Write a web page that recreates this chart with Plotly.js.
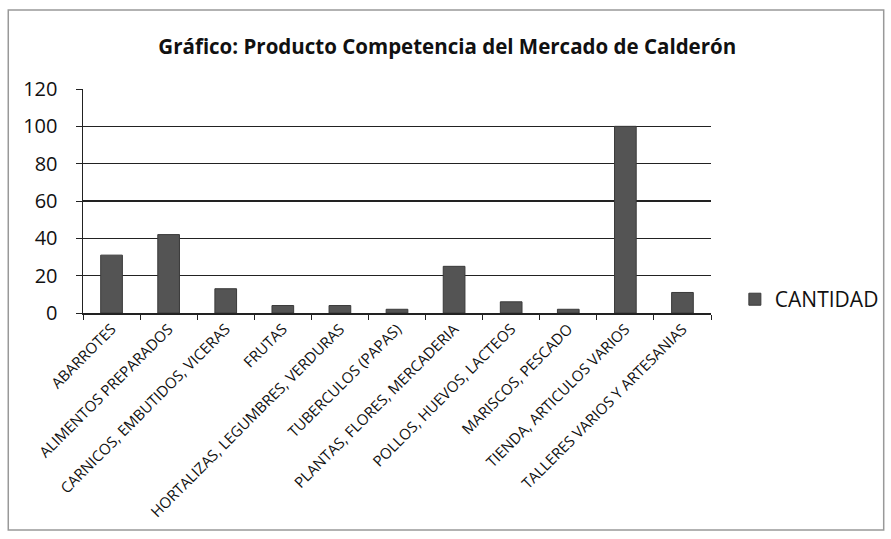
<!DOCTYPE html>
<html>
<head>
<meta charset="utf-8">
<script src="https://cdn.plot.ly/plotly-3.0.1.min.js"></script>
<style>html,body{margin:0;padding:0;background:#fff;}#chart{width:891px;height:539px;}</style>
</head>
<body>
<div id="chart"></div>
<script>
const categories = [
  "ABARROTES",
  "ALIMENTOS PREPARADOS",
  "CARNICOS, EMBUTIDOS, VICERAS",
  "FRUTAS",
  "HORTALIZAS, LEGUMBRES, VERDURAS",
  "TUBERCULOS (PAPAS)",
  "PLANTAS, FLORES, MERCADERIA",
  "POLLOS, HUEVOS, LACTEOS",
  "MARISCOS, PESCADO",
  "TIENDA, ARTICULOS VARIOS",
  "TALLERES VARIOS Y ARTESANIAS"
];
const cantidad = [31, 42, 13, 4, 4, 2, 25, 6, 2, 100, 11];
const seriesName = "CANTIDAD";
const yTicks = [0, 20, 40, 60, 80, 100, 120];

const font = "'Open Sans', 'Liberation Sans', sans-serif";

const trace = {
  type: "bar",
  x: categories,
  y: cantidad,
  name: seriesName,
  marker: {color: "#545454", line: {color: "#3a3a3a", width: 1}},
  showlegend: true
};

const layout = {
  width: 891, height: 539,
  margin: {l: 83, r: 180, t: 89, b: 226, autoexpand: false},
  paper_bgcolor: "#fff", plot_bgcolor: "#fff",
  font: {family: font, color: "#111"},
  title: {
    text: "<b>Gráfico: Producto Competencia del Mercado de Calderón</b>",
    font: {family: font, size: 20.5, color: "#111"},
    x: 0.502, xanchor: "center", xref: "container",
    y: 0.913, yanchor: "middle", yref: "container"
  },
  bargap: 0.62,
  xaxis: {
    type: "category",
    tickangle: -45,
    tickfont: {family: font, size: 15, color: "#111"},
    showline: true, linecolor: "#222", linewidth: 1.5,
    ticks: "outside", tickson: "boundaries", ticklen: 5, tickcolor: "#222",
    showgrid: false
  },
  yaxis: {
    range: [0, 120],
    tickvals: yTicks,
    tickfont: {family: font, size: 20, color: "#111"},
    showline: true, linecolor: "#222", linewidth: 1.5,
    ticks: "outside", ticklen: 6, tickcolor: "#222",
    ticklabelstandoff: 14,
    showgrid: true, gridcolor: "#222", gridwidth: 1.5,
    zeroline: false
  },
  legend: {
    x: 1.038, xanchor: "left", y: 0.06, yanchor: "middle",
    font: {family: font, size: 21, color: "#111"},
    bgcolor: "rgba(0,0,0,0)"
  },
  shapes: [{
    type: "rect", xref: "paper", yref: "paper",
    x0: -0.119, x1: 1.275, y0: -0.969, y1: 1.353,
    line: {color: "#999", width: 1.5}, fillcolor: "rgba(0,0,0,0)", layer: "below"
  }]
};

Plotly.newPlot("chart", [trace], layout, {displayModeBar: false, staticPlot: true});
</script>
</body>
</html>
